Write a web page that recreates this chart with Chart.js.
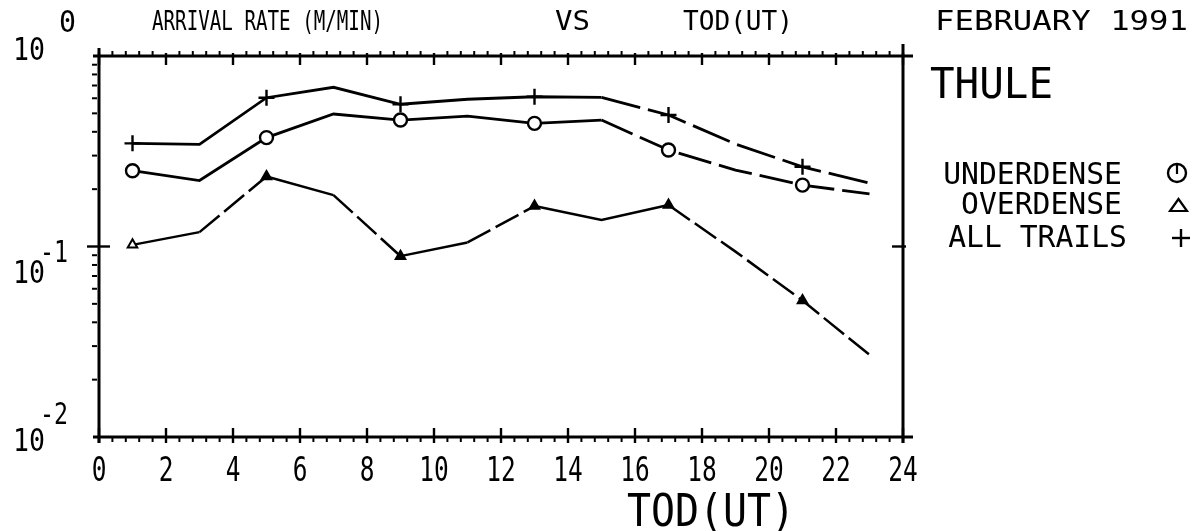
<!DOCTYPE html>
<html><head><meta charset="utf-8">
<script src="https://cdn.jsdelivr.net/npm/chart.js@4.4.0/dist/chart.umd.min.js"></script>
<style>html,body{margin:0;padding:0;background:#fff;}canvas{display:block;}</style>
</head><body>
<canvas id="c" width="1192" height="531"></canvas>
<script>
const hours = [1,3,5,7,9,11,13,15,17,19,21,23];
const allTrails  = [0.348,0.344,0.604,0.685,0.558,0.593,0.611,0.607,0.490,0.345,0.262,0.215];
const underdense = [0.250,0.222,0.373,0.496,0.461,0.484,0.443,0.461,0.321,0.252,0.210,0.189];
const overdense  = [0.102,0.119,0.233,0.186,0.089,0.105,0.163,0.138,0.165,0.094,0.052,0.027];
const markerHours = [1,5,9,13,17,21];
const xTickLabels = ['0','2','4','6','8','10','12','14','16','18','20','22','24'];
const yExponents = [0,-1,-2];
const seriesNames = ['UNDERDENSE','OVERDENSE','ALL TRAILS'];

const FONT = '"DejaVu Sans Mono", "Liberation Mono", monospace';
function txt(ctx, s, x, y, size, opt) {
  opt = opt || {};
  ctx.save();
  ctx.font = size + 'px ' + FONT;
  ctx.fillStyle = '#000';
  ctx.textBaseline = 'alphabetic';
  const w = ctx.measureText(s).width;
  let sx = opt.sx || 1;
  if (opt.width) sx = opt.width / w;
  const align = opt.align || 'left';
  ctx.translate(x, y);
  ctx.scale(sx, 1);
  ctx.textAlign = align;
  ctx.fillText(s, 0, 0);
  ctx.restore();
}
function line(ctx, x1, y1, x2, y2, lw) {
  ctx.beginPath();
  ctx.lineWidth = lw || 2;
  ctx.moveTo(x1, y1); ctx.lineTo(x2, y2); ctx.stroke();
}

const mk = (vals) => hours.map((h, i) => ({x: h, y: vals[i]}));
const radiusFor = (r) => hours.map(h => markerHours.includes(h) ? r : 0);

const dashAfter = (startHour, dash) => ({
  borderDash: ctx => (hours[ctx.p0DataIndex] >= startHour ? dash : undefined)
});
const overDashStarts = [3, 7, 11, 17, 19, 21];

const framePlugin = {
  id: 'frame',
  afterDraw(chart) {
    const ctx = chart.ctx;
    const xs = chart.scales.x, ys = chart.scales.y;
    const L = xs.getPixelForValue(0), R = xs.getPixelForValue(24);
    const T = ys.getPixelForValue(1), B = ys.getPixelForValue(0.01);
    ctx.save();
    ctx.strokeStyle = '#000';
    ctx.lineCap = 'butt';
    // frame
    line(ctx, L - 6, T, R + 10, T, 3);
    line(ctx, L - 6, B, R + 10, B, 3);
    line(ctx, L, T - 8, L, B + 6, 3);
    line(ctx, R, T - 12, R, B + 6, 3);
    // x ticks
    for (let h = 0; h <= 24; h += 2) {
      const px = xs.getPixelForValue(h);
      line(ctx, px, B - 9, px, B + 6, 2.4);
      line(ctx, px, T - 3, px, T + 9, 2.4);
    }
    for (let k = 0; k < 24 / 0.4; k++) {
      const h = k * 0.4;
      if (Math.abs(h / 2 - Math.round(h / 2)) < 1e-6) continue;
      const px = xs.getPixelForValue(h);
      line(ctx, px, B, px, B + 5, 2);
      line(ctx, px, T, px, T - 5, 2);
    }
    // y ticks
    yExponents.forEach(e => {
      const py = ys.getPixelForValue(Math.pow(10, e));
      if (e === -1) {
        line(ctx, L - 12, py, L + 11, py, 2.4);
        line(ctx, R - 11, py, R + 3, py, 2.4);
      }
      if (e > -2) {
        for (let m = 2; m <= 9; m++) {
          const yy = ys.getPixelForValue(m * Math.pow(10, e - 1));
          line(ctx, L - 7, yy, L - 2, yy, 2);
        }
      }
    });
    // y labels
    const ylab = {0: [4, -24], '-1': [36, 15], '-2': [14, -13]};
    yExponents.forEach(e => {
      const py = ys.getPixelForValue(Math.pow(10, e));
      const o = ylab[String(e)];
      txt(ctx, '10', 13, py + o[0], 32, {width: 32});
      txt(ctx, String(e), 40 + (e === 0 ? 19 : 0), py + o[1], 30, {width: e === 0 ? 17 : 28});
    });
    // x labels
    xTickLabels.forEach((s, i) => {
      const px = xs.getPixelForValue(i * 2);
      txt(ctx, s, px, B + 44, 34, {sx: 0.72, align: 'center'});
    });
    txt(ctx, 'TOD(UT)', 627, 526, 44, {width: 168});
    // titles
    txt(ctx, 'ARRIVAL RATE (M/MIN)', 152, 30, 27, {width: 231});
    txt(ctx, 'VS', 555, 30, 27, {width: 35});
    txt(ctx, 'TOD(UT)', 683, 30, 27, {width: 110});
    txt(ctx, 'FEBRUARY 1991', 935, 30, 27, {width: 253});
    txt(ctx, 'THULE', 930, 98, 42, {width: 123});
    // legend
    const legY = [184, 214, 247];
    const legRight = [1122, 1122, 1127];
    seriesNames.forEach((s, i) => {
      txt(ctx, s, legRight[i], legY[i], 30, {align: 'right', sx: 0.99});
    });
    ctx.lineWidth = 2.4;
    ctx.beginPath(); ctx.arc(1177, 173, 9, 0, Math.PI * 2); ctx.stroke();
    line(ctx, 1177, 164, 1177, 174, 2.2);
    ctx.beginPath(); ctx.moveTo(1170, 211); ctx.lineTo(1187, 211); ctx.lineTo(1178.5, 199); ctx.closePath(); ctx.stroke();
    line(ctx, 1172, 238, 1190, 238, 2.4);
    line(ctx, 1181, 229, 1181, 247, 2.4);
    ctx.restore();
  }
};

new Chart(document.getElementById('c'), {
  type: 'line',
  data: {
    datasets: [
      {label: seriesNames[2], data: mk(allTrails), borderColor: '#000', borderWidth: 2.8,
       pointStyle: 'cross', pointRadius: radiusFor(8), pointBorderWidth: 2.4, pointBorderColor: '#000',
       segment: dashAfter(15, [40, 8])},
      {label: seriesNames[0], data: mk(underdense), borderColor: '#000', borderWidth: 2.8,
       pointStyle: 'circle', pointRadius: radiusFor(6.5), pointBorderWidth: 2.4, pointBorderColor: '#000',
       pointBackgroundColor: '#fff', segment: dashAfter(15, [34, 8])},
      {label: seriesNames[1], data: mk(overdense), borderColor: '#000', borderWidth: 2.5,
       pointStyle: 'triangle', pointRadius: radiusFor(5.5), pointBorderWidth: 2, pointBorderColor: '#000',
       pointBackgroundColor: hours.map(h => h === 1 ? '#fff' : '#000'),
       segment: {borderDash: c => overDashStarts.includes(hours[c.p0DataIndex]) ? [26, 6] : undefined}}
    ]
  },
  options: {
    responsive: false,
    animation: false,
    devicePixelRatio: 1,
    layout: {padding: {left: 99, right: 289, top: 56, bottom: 94}},
    plugins: {legend: {display: false}, tooltip: {enabled: false}, title: {display: false}},
    elements: {line: {tension: 0}},
    scales: {
      x: {type: 'linear', min: 0, max: 24, display: true,
          grid: {display: false}, border: {display: false}, ticks: {display: false},
          afterFit: s => { s.height = 0; }},
      y: {type: 'logarithmic', min: 0.01, max: 1, display: true,
          grid: {display: false}, border: {display: false}, ticks: {display: false},
          afterFit: s => { s.width = 0; }}
    }
  },
  plugins: [framePlugin]
});
</script>
</body></html>
